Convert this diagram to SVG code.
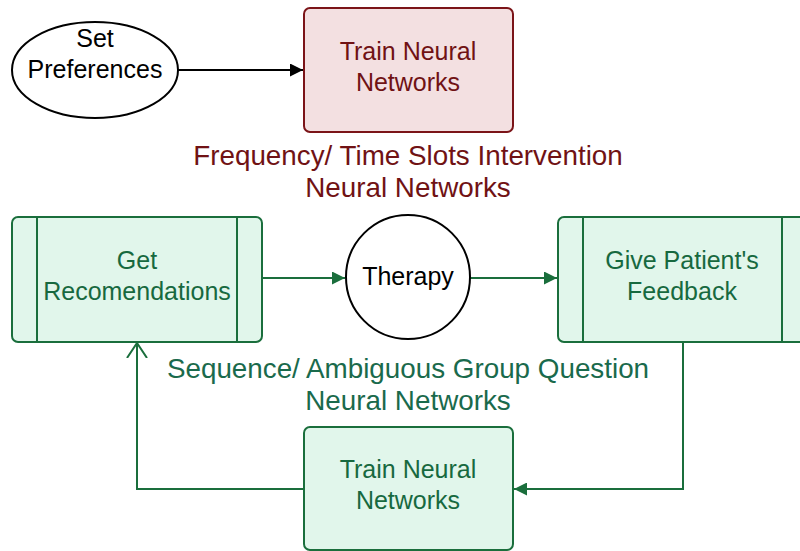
<svg xmlns="http://www.w3.org/2000/svg" width="800" height="551" viewBox="0 0 800 551">
<defs>
<style>
text{font-family:"Liberation Sans",Arial,sans-serif;text-anchor:middle}
.bt{font-size:25px}
.lb{font-size:27.8px}
.red{fill:#f3e0e1;stroke:#7b1418;stroke-width:2}
.redt{fill:#701214}
.grn{fill:#e1f6eb;stroke:#1a6e3c;stroke-width:2}
.grnt{fill:#17693f}
.lbg{fill:#1a6a4c}
.conn{fill:none;stroke-width:2}
</style>
<marker id="ab" viewBox="0 0 10 10" refX="10" refY="5" markerWidth="15" markerHeight="13" markerUnits="userSpaceOnUse" orient="auto"><path d="M0,0 L10,5 L0,10 Z" fill="#000"/></marker>
<marker id="ag" viewBox="0 0 10 10" refX="10" refY="5" markerWidth="15" markerHeight="13" markerUnits="userSpaceOnUse" orient="auto"><path d="M0,0 L10,5 L0,10 Z" fill="#1a6e3c"/></marker>
<marker id="ao" viewBox="0 0 16 22" refX="15" refY="11" markerWidth="16" markerHeight="22" markerUnits="userSpaceOnUse" orient="auto"><path d="M0,1 L15,11 L0,21" fill="none" stroke="#1a6e3c" stroke-width="2"/></marker>
</defs>
<rect width="800" height="551" fill="#fff"/>
<g id="connectors">
<path class="conn" d="M178,70 H303" stroke="#000" marker-end="url(#ab)"/>
<path class="conn" d="M262,278 H345" stroke="#1a6e3c" marker-end="url(#ag)"/>
<path class="conn" d="M470,278 H557" stroke="#1a6e3c" marker-end="url(#ag)"/>
<path class="conn" d="M683,342 V489 H514" stroke="#1a6e3c" marker-end="url(#ag)"/>
<path class="conn" d="M304,489 H137 V343" stroke="#1a6e3c" marker-end="url(#ao)"/>
</g>
<g id="set-preferences">
<ellipse cx="95" cy="70" rx="83" ry="48" fill="#fff" stroke="#000" stroke-width="2"/>
<text class="bt" x="95" y="47">Set</text>
<text class="bt" x="95" y="78">Preferences</text>
</g>
<g id="train-top">
<rect class="red" x="304" y="8" width="209" height="124" rx="6"/>
<text class="bt redt" x="408" y="60">Train Neural</text>
<text class="bt redt" x="408" y="91">Networks</text>
</g>
<g id="label-frequency">
<text class="lb redt" x="408" y="165">Frequency/ Time Slots Intervention</text>
<text class="lb redt" x="408" y="197">Neural Networks</text>
</g>
<g id="get-recommendations">
<rect class="grn" x="12" y="217" width="250" height="125" rx="6"/>
<line x1="37" y1="217" x2="37" y2="342" stroke="#1a6e3c" stroke-width="2"/>
<line x1="237" y1="217" x2="237" y2="342" stroke="#1a6e3c" stroke-width="2"/>
<text class="bt grnt" x="137" y="269">Get</text>
<text class="bt grnt" x="137" y="300">Recomendations</text>
</g>
<g id="therapy">
<circle cx="408" cy="277" r="62" fill="#fff" stroke="#000" stroke-width="2"/>
<text class="bt" x="408" y="285">Therapy</text>
</g>
<g id="give-feedback">
<rect class="grn" x="558" y="217" width="250" height="125" rx="6"/>
<line x1="583" y1="217" x2="583" y2="342" stroke="#1a6e3c" stroke-width="2"/>
<line x1="782" y1="217" x2="782" y2="342" stroke="#1a6e3c" stroke-width="2"/>
<text class="bt grnt" x="682" y="269">Give Patient's</text>
<text class="bt grnt" x="682" y="300">Feedback</text>
</g>
<g id="label-sequence">
<text class="lb lbg" x="408" y="378">Sequence/ Ambiguous Group Question</text>
<text class="lb lbg" x="408" y="410">Neural Networks</text>
</g>
<g id="train-bottom">
<rect class="grn" x="304" y="427" width="209" height="123" rx="6"/>
<text class="bt grnt" x="408" y="478">Train Neural</text>
<text class="bt grnt" x="408" y="509">Networks</text>
</g>
</svg>
